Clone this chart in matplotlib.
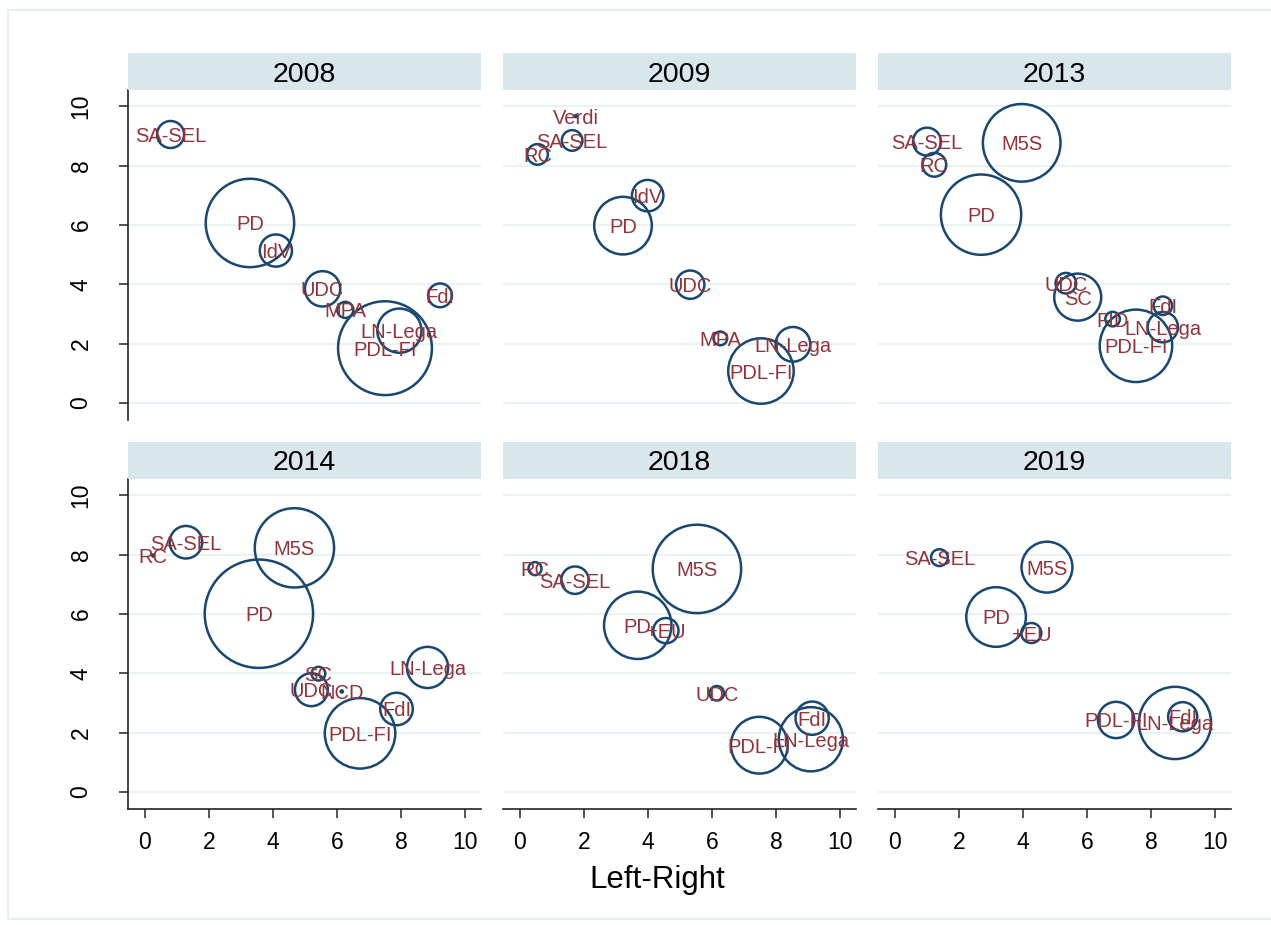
import matplotlib
matplotlib.use("Agg")
import matplotlib.pyplot as plt
from matplotlib.patches import Rectangle

plt.rcParams['font.family'] = ['Liberation Sans', 'DejaVu Sans']

# panel years (left to right, top to bottom)
years = ["2008", "2009", "2013", "2014", "2018", "2019"]

# 2008
parties_2008 = ["SA-SEL", "PD", "IdV", "UDC", "MPA", "FdI", "LN-Lega", "PDL-FI"]
lr_2008 = [0.80, 3.28, 4.09, 5.55, 6.26, 9.22, 7.95, 7.50]
y_2008 = [9.05, 6.07, 5.14, 3.85, 3.14, 3.63, 2.44, 1.85]
w_2008 = [3.1, 33.2, 4.4, 5.3, 1.1, 2.4, 8.3, 37.4]

# 2009
parties_2009 = ["Verdi", "SA-SEL", "RC", "IdV", "PD", "UDC", "MPA", "LN-Lega", "PDL-FI"]
lr_2009 = [1.75, 1.63, 0.55, 3.99, 3.22, 5.32, 6.26, 8.53, 7.53]
y_2009 = [9.67, 8.85, 8.38, 6.99, 5.98, 3.99, 2.18, 1.98, 1.08]
w_2009 = [0.02, 1.8, 1.8, 4.2, 14.1, 3.4, 0.8, 5.1, 18.2]

# 2013
parties_2013 = ["SA-SEL", "RC", "M5S", "PD", "UDC", "SC", "FID", "FdI", "LN-Lega", "PDL-FI"]
lr_2013 = [1.00, 1.23, 3.96, 2.69, 5.34, 5.71, 6.80, 8.37, 8.37, 7.53]
y_2013 = [8.81, 8.03, 8.77, 6.35, 4.04, 3.57, 2.83, 3.28, 2.56, 1.93]
w_2013 = [3.3, 2.4, 25.6, 27.4, 1.8, 9.4, 0.9, 1.45, 3.9, 22.3]

# 2014
parties_2014 = ["RC", "SA-SEL", "M5S", "PD", "SC", "UDC", "NCD", "FdI", "LN-Lega", "PDL-FI"]
lr_2014 = [0.26, 1.28, 4.67, 3.56, 5.42, 5.20, 6.15, 7.86, 8.83, 6.72]
y_2014 = [7.97, 8.42, 8.23, 6.01, 3.99, 3.45, 3.39, 2.80, 4.20, 1.98]
w_2014 = [0.02, 4.5, 26.7, 49.9, 0.8, 4.6, 0.02, 4.5, 7.2, 21.1]

# 2018
parties_2018 = ["RC", "SA-SEL", "M5S", "PD", "+EU", "UDC", "FdI", "LN-Lega", "PDL-FI"]
lr_2018 = [0.47, 1.72, 5.53, 3.68, 4.56, 6.15, 9.13, 9.09, 7.48]
y_2018 = [7.53, 7.14, 7.52, 5.62, 5.44, 3.33, 2.49, 1.78, 1.58]
w_2018 = [0.72, 3.2, 33.2, 19.3, 2.7, 0.9, 4.7, 17.5, 13.7]

# 2019
parties_2019 = ["SA-SEL", "M5S", "PD", "+EU", "PDL-FI", "LN-Lega", "FdI"]
lr_2019 = [1.39, 4.75, 3.16, 4.26, 6.91, 8.75, 8.99]
y_2019 = [7.90, 7.58, 5.90, 5.36, 2.43, 2.33, 2.54]
w_2019 = [1.2, 11.0, 15.1, 1.7, 5.6, 22.2, 3.6]

panels = [
    (parties_2008, lr_2008, y_2008, w_2008),
    (parties_2009, lr_2009, y_2009, w_2009),
    (parties_2013, lr_2013, y_2013, w_2013),
    (parties_2014, lr_2014, y_2014, w_2014),
    (parties_2018, lr_2018, y_2018, w_2018),
    (parties_2019, lr_2019, y_2019, w_2019),
]

navy = '#1a476f'
maroon = '#90353b'
grid_col = '#eaf2f3'
strip_col = '#d9e6eb'
area_per_weight = 122.0   # points^2 per weight unit

W, H = 1271, 925
fig = plt.figure(figsize=(W / 100, H / 100), dpi=100)
fig.patch.set_facecolor('white')

# outer graph region border
fig.add_artist(Rectangle((7.5 / W, 6 / H), 1.1, 1 - 16 / H, transform=fig.transFigure,
                         fill=False, edgecolor='#e6eef0', lw=1.5))

col_left = [128, 503, 878]
row_top = [90, 479]
pw, ph = 353, 330
strip_h = 37

for i, (names, xs, ys, ws) in enumerate(panels):
    r, c = divmod(i, 3)
    left = col_left[c] / W
    bottom = 1 - (row_top[r] + ph) / H
    ax = fig.add_axes([left, bottom, pw / W, ph / H])

    sizes = [area_per_weight * v for v in ws]
    ax.scatter(xs, ys, s=sizes, facecolors='none', edgecolors=navy, linewidths=1.8, zorder=3)
    for name, x, y in zip(names, xs, ys):
        ax.text(x, y, name, color=maroon, fontsize=14.5, ha='center', va='center_baseline', zorder=4)

    ax.set_xlim(-0.53, 10.5)
    ax.set_ylim(-0.57, 10.55)
    ax.set_xticks(range(0, 11, 2))
    ax.set_yticks(range(0, 11, 2))
    ax.yaxis.grid(True, color=grid_col, lw=1.6)
    ax.set_axisbelow(True)
    for s in ['top', 'right']:
        ax.spines[s].set_visible(False)
    ax.tick_params(axis='both', length=6.5, width=1.1, labelsize=16.5, color='#222222')
    ax.tick_params(axis='x', pad=9)
    ax.tick_params(axis='y', pad=19, labelrotation=90)
    for lab in ax.get_yticklabels():
        lab.set_va('center')

    if c != 0:
        ax.spines['left'].set_visible(False)
        ax.tick_params(axis='y', left=False, labelleft=False)
    if r == 0:
        ax.spines['bottom'].set_visible(False)
        ax.tick_params(axis='x', bottom=False, labelbottom=False)
    for s in ['left', 'bottom']:
        ax.spines[s].set_color('#222222')
        ax.spines[s].set_linewidth(1.2)

    # strip header with the year
    sax = fig.add_axes([left, 1 - row_top[r] / H, pw / W, strip_h / H])
    sax.set_facecolor(strip_col)
    sax.set_xticks([])
    sax.set_yticks([])
    for s in sax.spines.values():
        s.set_visible(False)
    sax.text(0.5, 0.5, years[i], transform=sax.transAxes, ha='center', va='center_baseline',
             fontsize=20.5, color='black')

fig.text(657 / W, 1 - 880 / H, "Left-Right", ha='center', va='center', fontsize=22.5)

fig.savefig("out.png", dpi=100, facecolor='white')
